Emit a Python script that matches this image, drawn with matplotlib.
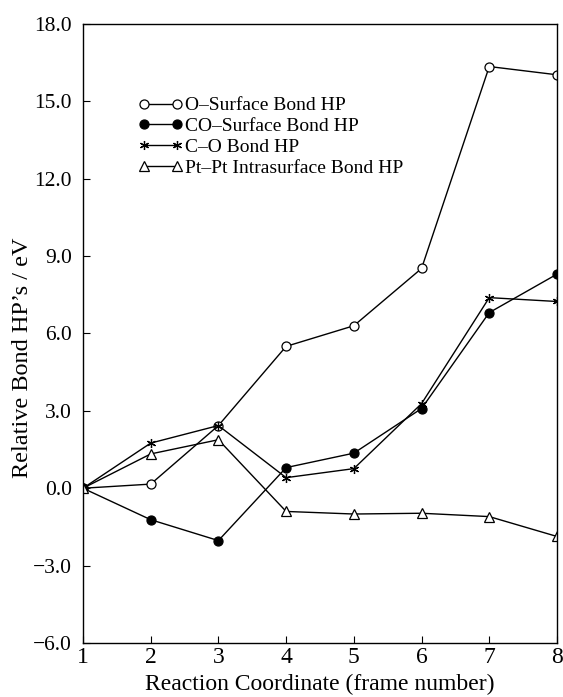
import matplotlib
matplotlib.use("Agg")
import matplotlib.pyplot as plt
from matplotlib.ticker import FuncFormatter

frames = [1, 2, 3, 4, 5, 6, 7, 8]
o_surface = [0.0, 0.16, 2.43, 5.5, 6.3, 8.52, 16.35, 16.03]
co_surface = [0.0, -1.22, -2.03, 0.80, 1.36, 3.09, 6.81, 8.30]
c_o = [0.0, 1.75, 2.43, 0.41, 0.76, 3.28, 7.39, 7.24]
pt_pt = [0.0, 1.33, 1.88, -0.90, -1.0, -0.97, -1.10, -1.87]
labels = ["O\u2013Surface Bond HP", "CO\u2013Surface Bond HP", "C\u2013O Bond HP",
          "Pt\u2013Pt Intrasurface Bond HP"]
yticks = [-6.0, -3.0, 0.0, 3.0, 6.0, 9.0, 12.0, 15.0, 18.0]

plt.rcParams['font.family'] = ['Liberation Serif', 'DejaVu Serif']

fig = plt.figure(figsize=(5.63, 6.97), dpi=100)
ax = fig.add_axes([0.1474, 0.0775, 0.8419, 0.8881])

kw = dict(color='black', lw=1.0, markeredgewidth=0.9)
ax.plot(frames, o_surface, marker='o', mfc='white', mec='black', ms=6.5, label=labels[0], **kw)
ax.plot(frames, co_surface, marker='o', mfc='black', mec='black', ms=6.5, label=labels[1], **kw)
ax.plot(frames, c_o, marker=(6, 2, 0), mec='black', ms=6.5, label=labels[2], **kw)
ax.plot(frames, pt_pt, marker='^', mfc='white', mec='black', ms=7, label=labels[3], **kw)

ax.set_xlim(1, 8)
ax.set_ylim(-6, 18)
ax.set_xticks(frames)
ax.set_yticks(yticks)
ax.yaxis.set_major_formatter(FuncFormatter(lambda v, p: f"{v:.1f}".replace('-', '\u2212')))
ax.tick_params(direction='in', length=5, width=0.8)
ax.tick_params(axis='x', labelsize=17, pad=3)
ax.tick_params(axis='y', labelsize=15.5, pad=8)
for s in ax.spines.values():
    s.set_linewidth(1.0)

ax.set_xlabel("Reaction Coordinate (frame number)", fontsize=17, labelpad=4)
ax.set_ylabel("Relative Bond HP\u2019s / eV", fontsize=17.5)
ax.yaxis.set_label_coords(-0.105, 0.46)

leg = ax.legend(loc='upper left', bbox_to_anchor=(0.101, 0.895), frameon=False,
                fontsize=14, handlelength=2.25, handletextpad=0.12, numpoints=2,
                labelspacing=0.16, borderaxespad=0)

fig.savefig("out.png", dpi=100)
